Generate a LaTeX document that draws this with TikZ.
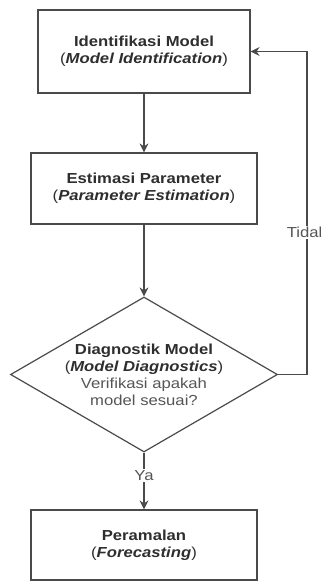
\documentclass[tikz,border=0pt]{standalone}
\usepackage{fontspec}
\setmainfont{Liberation Sans}[FakeStretch=1.15]
\usetikzlibrary{shapes.geometric,arrows.meta}
\definecolor{linec}{HTML}{4A4A4A}
\definecolor{txtb}{HTML}{2E2E2E}
\definecolor{txtr}{HTML}{555555}
\tikzset{
  stepbox/.style={draw=linec, line width=1.2pt, fill=white, align=center,
    inner sep=0pt, text=txtb, font=\fontsize{14.5}{17}\selectfont},
  decbox/.style={draw=linec, line width=1.2pt, diamond, align=center,
    inner sep=0pt, text=txtb, font=\fontsize{14.5}{17}\selectfont},
  arr/.style={draw=linec, line width=1.1pt, -{Stealth[length=9pt,width=9pt,inset=3pt]}},
  lbl/.style={fill=white, text=txtr, inner sep=1.5pt, font=\fontsize{14.5}{17}\selectfont},
}
\begin{document}
\begin{tikzpicture}[x=1pt,y=-1pt]
\useasboundingbox (0,0) rectangle (321,581);
\node[stepbox, minimum width=212pt, minimum height=83pt] (id) at (144,51.5)
  {\textbf{Identifikasi Model}\\(\textbf{\textit{Model Identification}})};
\node[stepbox, minimum width=226pt, minimum height=71pt] (est) at (144,188.5)
  {\textbf{Estimasi Parameter}\\(\textbf{\textit{Parameter Estimation}})};
\node[decbox, minimum width=267pt, minimum height=155pt, shape aspect=1.72] (diag) at (144,374.5)
  {\textbf{Diagnostik Model}\\(\textbf{\textit{Model Diagnostics}})\\
   \textcolor{txtr}{Verifikasi apakah}\\\textcolor{txtr}{model sesuai?}};
\node[stepbox, minimum width=226pt, minimum height=70pt] (fc) at (144,545)
  {\textbf{Peramalan}\\(\textbf{\textit{Forecasting}})};
\coordinate (fbk) at (307,51.5);
\draw[arr] (id) -- (est);
\draw[arr] (est) -- (diag);
\draw[arr] (diag) -- node[lbl, pos=0.41] (ya) {Ya} (fc);
\draw[arr] (diag.east) -| node[lbl, pos=0.72] (tidak) {Tidak} (fbk) -- (id.east);
\end{tikzpicture}
\end{document}
